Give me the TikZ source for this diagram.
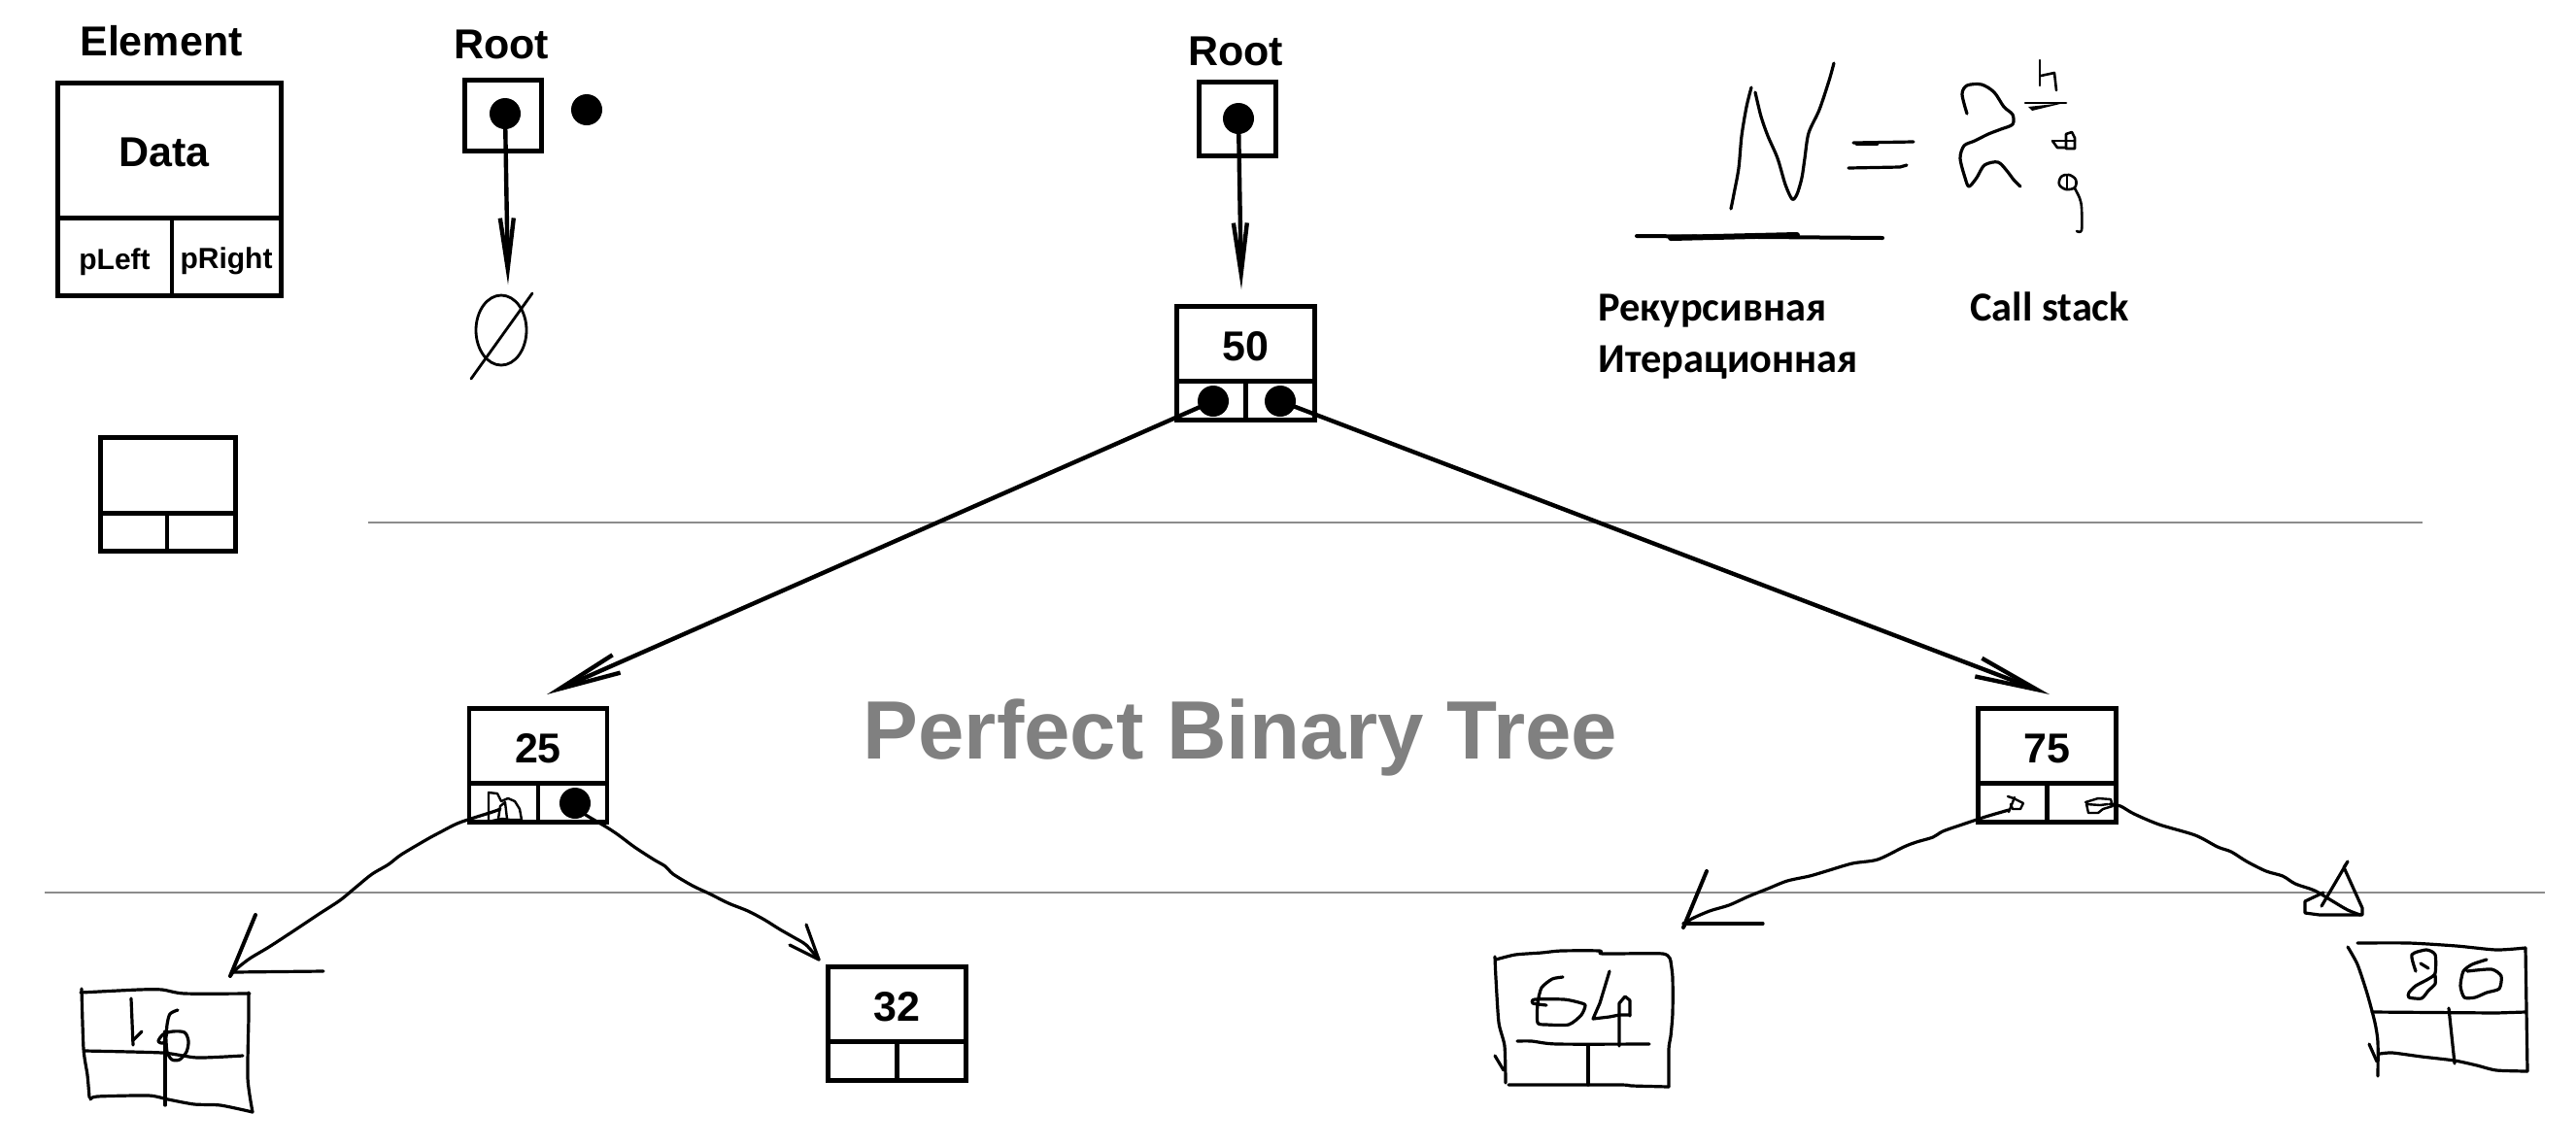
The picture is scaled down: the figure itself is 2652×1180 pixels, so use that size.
\documentclass[tikz,border=0pt]{standalone}
\usepackage{fontspec}
\setmainfont{Liberation Sans}
\newfontfamily\carlito{Carlito}
\usetikzlibrary{arrows.meta}
\definecolor{guidegray}{RGB}{140,140,140}
\definecolor{pbtgray}{RGB}{128,128,128}
\newcommand\treenode[4]{%
  \node[tbox] (#1) at (#2,#3) {};
  \draw[divider] ([yshift=-38.5pt]#1.north west) -- ([yshift=-38.5pt]#1.north east);
  \draw[divider] ([yshift=-38.5pt]#1.north) -- (#1.south);
  \node[numtext] (#1-data) at ([yshift=-28pt]#1.north) {#4};
  \coordinate (#1-l) at ([xshift=-17pt,yshift=10pt]#1.south);
  \coordinate (#1-r) at ([xshift=17pt,yshift=10pt]#1.south);
}
\begin{document}
\begin{tikzpicture}[x=0.5pt,y=-0.5pt,
  tbox/.style={draw, line width=2.4pt, inner sep=0pt, outer sep=0pt, minimum width=71pt, minimum height=58.5pt},
  divider/.style={line width=2.4pt},
  bbox/.style={draw, line width=2.4pt, inner sep=0pt, outer sep=0pt},
  numtext/.style={font=\bfseries\fontsize{21.5pt}{25pt}\selectfont, inner sep=0pt, anchor=base},
  lbl/.style={font=\bfseries\fontsize{21.5pt}{25pt}\selectfont, inner sep=0pt, anchor=base},
  smalllbl/.style={font=\bfseries\fontsize{15pt}{18pt}\selectfont, inner sep=0pt, anchor=base},
  rutext/.style={font=\carlito\bfseries\fontsize{21.2pt}{25pt}\selectfont, inner sep=0pt, anchor=base west},
  ptrdot/.style={circle, fill, inner sep=0pt, minimum size=16pt},
  ptr/.style={line width=2.2pt, -{Straight Barb[length=32pt,width=10pt]}},
  rootptr/.style={line width=2.2pt, -{Straight Barb[length=26pt,width=7pt]}},
  hand/.style={line width=1.6pt, line cap=round, line join=round},
  guide/.style={line width=0.75pt, draw=guidegray}]
\useasboundingbox (0,0) rectangle (2652,1180);
\fill[white] (0,0) rectangle (2652,1180);

% guide lines
\coordinate (g1a) at (379,538); \coordinate (g1b) at (2494,538);
\coordinate (g2a) at (46,919);  \coordinate (g2b) at (2620,919);
\draw[guide] (g1a) -- (g1b);
\draw[guide] (g2a) -- (g2b);

% Element legend
\node[lbl] (elemlbl) at (166,57) {Element};
\node[bbox, minimum width=115pt, minimum height=109.5pt] (elem) at (174.5,195) {};
\draw[divider] ([yshift=-69.5pt]elem.north west) -- ([yshift=-69.5pt]elem.north east);
\draw[divider] ([xshift=1.25pt,yshift=-69.5pt]elem.north) -- ([xshift=1.25pt]elem.south);
\node[lbl] (data) at (169,171) {Data};
\node[smalllbl] (pleft) at (118,277) {pLeft};
\node[smalllbl] (pright) at (233,276) {pRight};

% blank element
\node[bbox, minimum width=69.5pt, minimum height=58.5pt] (blank) at (173,509) {};
\draw[divider] ([yshift=-39pt]blank.north west) -- ([yshift=-39pt]blank.north east);
\draw[divider] ([xshift=-0.5pt,yshift=-39pt]blank.north) -- ([xshift=-0.5pt]blank.south);

% Root 1 (empty tree)
\node[lbl] (root1lbl) at (516,60) {Root};
\node[bbox, minimum width=39.5pt, minimum height=36.5pt] (root1) at (518,119) {};
\node[ptrdot] (r1dot) at (520,117) {};
\node[ptrdot] (freedot) at (604,113) {};
\coordinate (nulltip) at (523,293);
\draw[rootptr] (r1dot.center) -- (nulltip);
\draw[hand, line width=1.4pt] (516,340) ellipse [x radius=13pt, y radius=18pt];
\draw[hand, line width=1.4pt] (485,390) -- (548,302);

% Root 2
\node[lbl] (root2lbl) at (1272,67) {Root};
\node[bbox, minimum width=39.5pt, minimum height=38pt] (root2) at (1274,122.5) {};
\node[ptrdot] (r2dot) at (1275,122) {};
\coordinate (n50tip) at (1278,298);
\draw[rootptr] (r2dot.center) -- (n50tip);

% tree nodes
\treenode{n50}{1282.5}{374}{50}
\treenode{n25}{554}{788}{25}
\treenode{n75}{2107.5}{788}{75}
\treenode{n32}{923.5}{1054}{32}

\node[ptrdot] (d50l) at (1249,413) {};
\node[ptrdot] (d50r) at (1318,413) {};
\node[ptrdot] (d25r) at (592,827) {};

\coordinate (n25tip) at (563,715);
\coordinate (n75tip) at (2110,715);
\draw[ptr] (d50l.center) -- (n25tip);
\draw[ptr] (d50r.center) -- (n75tip);

% title
\node[font=\bfseries\fontsize{42.6pt}{50pt}\selectfont, text=pbtgray, inner sep=0pt, anchor=base] (pbt) at (1277,781) {Perfect Binary Tree};

% texts
\node[rutext] (rek) at (1645,330) {Рекурсивная};
\node[rutext] (iter) at (1645,383) {Итерационная};
\node[rutext] (callstack) at (2028,330) {Call stack};

% handwritten formula
\draw[hand] plot[smooth, tension=0.5] coordinates {(1782,215) (1785,200) (1790,173) (1793,140) (1798,110) (1803,90)};
\draw[hand] plot[smooth, tension=0.5] coordinates {(1807,95) (1813,120) (1820,140) (1830,163) (1838,190) (1845,205) (1850,200) (1855,183) (1858,163) (1862,137) (1873,113) (1883,83) (1888,65)};
\draw[hand] (1908,147) -- (1970,146);
\draw[hand, line width=2.4pt] (1912,148) -- (1932,148);
\draw[hand] (1903,173) -- (1956,172) -- (1963,170);
\draw[hand, line width=2pt] (1685,243) -- (1938,245);
\draw[hand, line width=3pt] (1720,245) -- (1850,242);
\draw[hand] plot[smooth, tension=0.5] coordinates {(2025,117) (2020,97) (2025,88) (2040,87) (2053,95) (2063,110) (2072,118) (2072,128) (2060,133) (2047,138) (2033,145) (2022,150) (2018,163) (2023,183) (2027,192) (2035,183) (2043,170) (2057,167) (2067,177) (2073,185) (2080,192)};
\draw[hand, line width=1.3pt] (2100,62) -- (2100,88);
\draw[hand, line width=1.3pt] (2101,78) -- (2115,75) -- (2117,93);
\draw[hand, line width=1.3pt] (2085,106) -- (2127,106);
\fill (2088,110) -- (2125,106) -- (2092,114) -- cycle;
\draw[hand, line width=1.3pt] (2127,153) -- (2127,138) -- (2133,136) -- (2136,142) -- (2136,153) -- cycle;
\draw[hand, line width=1.3pt] (2113,145) -- (2136,145);
\draw[hand, line width=1.3pt] (2113,145) -- (2118,152) -- (2127,152);
\draw[hand, line width=1.3pt] plot[smooth cycle, tension=0.6] coordinates {(2130,180) (2137,185) (2136,193) (2127,195) (2120,190) (2122,182)};
\draw[hand, line width=1.3pt] (2128,181) -- (2128,195);
\draw[hand, line width=1.3pt] plot[smooth, tension=0.5] coordinates {(2136,194) (2141,204) (2143,214) (2143,237) (2138,238)};

% scribbles in pointer cells
\draw[hand, line width=1.2pt] (503,845) -- (503,816) -- (512,817) -- (516,825) -- (523,822) -- (530,825) -- (535,833) -- (537,844) -- (525,844) -- (517,843) -- (507,845);
\draw[hand, line width=1.2pt] (513,843) -- (515,830) -- (520,826) -- (522,843);
\coordinate (p25l) at (515,833);
\draw[hand, line width=1.2pt] (2067,820) -- (2073,822) -- (2083,827) -- (2080,833) -- (2072,833) -- (2070,828);
\draw[hand, line width=1.2pt] (2074,821) -- (2068,836);
\coordinate (p75l) at (2068,834);
\draw[hand, line width=1.2pt] (2147,826) -- (2160,822) -- (2173,823) -- (2175,830) -- (2165,833) -- (2160,837) -- (2150,837) -- (2148,828) -- (2162,829) -- (2170,828);
\coordinate (p75r) at (2172,828);

% handwritten connectors
\coordinate (tip16) at (237,1005);
\draw[hand] plot[smooth, tension=0.5] coordinates {(p25l) (507,836) (473,847) (453,857) (440,864) (413,880) (400,890) (383,900) (367,913) (350,927) (327,942) (300,960) (277,975) (257,987) (243,998) (tip16)};
\draw[hand, line width=2pt] (tip16) -- (263,942);
\draw[hand] (240,1001) -- (333,1000);

\coordinate (tip32) at (843,988);
\draw[hand] plot[smooth, tension=0.5] coordinates {(d25r) (600,837) (625,852) (637,860) (653,872) (673,885) (685,892) (693,900) (713,912) (730,920) (750,930) (770,938) (787,947) (803,957) (817,965) (830,973) (tip32)};
\draw[hand] (tip32) -- (830,952);
\draw[hand] (tip32) -- (813,973);

\coordinate (tip64) at (1733,955);
\draw[hand] plot[smooth, tension=0.5] coordinates {(p75l) (2044,841) (2020,849) (2000,856) (1990,862) (1973,867) (1960,872) (1933,885) (1907,889) (1880,897) (1863,902) (1840,907) (1820,915) (1800,923) (1780,932) (1760,938) (1740,947) (tip64)};
\draw[hand, line width=2pt] (tip64) -- (1757,897);
\draw[hand] (1733,951) -- (1815,951);

\coordinate (tip86) at (2430,942);
\draw[hand] plot[smooth, tension=0.5] coordinates {(p75r) (2183,830) (2197,838) (2223,849) (2260,860) (2283,872) (2297,877) (2313,887) (2333,897) (2350,902) (2363,910) (2383,917) (2400,927) (2417,937) (tip86)};
\draw[hand] (2392,919) -- (2373,928) -- (2373,940) -- (2388,942) -- (2432,942) -- (2432,935) -- (2413,893) -- (2417,887) -- (2390,933);

% handwritten box 16
\draw[hand] plot[smooth, tension=0.4] coordinates {(83,1022) (143,1019) (167,1019) (190,1023) (257,1023)};
\draw[hand] plot[smooth, tension=0.4] coordinates {(256,1022) (256,1047) (255,1110) (260,1145)};
\draw[hand] plot[smooth, tension=0.4] coordinates {(260,1145) (227,1138) (200,1137) (173,1132) (153,1128) (100,1129) (93,1132)};
\draw[hand] plot[smooth, tension=0.4] coordinates {(84,1018) (86,1080) (90,1107) (92,1130)};
\draw[hand] plot[smooth, tension=0.4] coordinates {(87,1082) (167,1084) (203,1089) (250,1087)};
\draw[hand] (170,1062) -- (170,1138);
\draw[hand] (135,1028) -- (137,1076);
\draw[hand] (137,1071) -- (146,1062);
\draw[hand] plot[smooth, tension=0.5] coordinates {(183,1040) (175,1044) (172,1055) (171,1068) (168,1074) (163,1072) (168,1065) (178,1062) (190,1063) (194,1072) (192,1083) (185,1091) (177,1091) (172,1083) (171,1070)};

% handwritten box 64
\draw[hand] plot[smooth, tension=0.4] coordinates {(1540,988) (1560,983) (1587,981) (1607,979) (1647,979) (1650,982) (1712,982) (1720,990)};
\draw[hand] plot[smooth, tension=0.4] coordinates {(1720,990) (1722,1007) (1722,1043) (1720,1067) (1718,1080) (1718,1119)};
\draw[hand] plot[smooth, tension=0.4] coordinates {(1718,1119) (1680,1118) (1667,1117) (1553,1117)};
\draw[hand] plot[smooth, tension=0.4] coordinates {(1539,985) (1540,1007) (1543,1053) (1549,1077) (1550,1115)};
\draw[hand] (1539,1087) -- (1548,1102);
\draw[hand] plot[smooth, tension=0.4] coordinates {(1562,1072) (1577,1072) (1603,1075) (1698,1075)};
\draw[hand] (1635,1077) -- (1635,1117);
\draw[hand] plot[smooth, tension=0.4] coordinates {(1609,1006) (1598,1008) (1587,1017) (1583,1033) (1583,1053) (1592,1055) (1615,1055) (1628,1045) (1632,1035) (1625,1032) (1610,1029) (1580,1029) (1578,1033) (1592,1035)};
\draw[hand] (1657,1000) -- (1647,1033) -- (1640,1049) -- (1657,1047) -- (1667,1045) -- (1678,1045);
\draw[hand] (1667,1077) -- (1667,1033) -- (1673,1026) -- (1678,1030) -- (1678,1046);

% handwritten box 86
\draw[hand] plot[smooth, tension=0.4] coordinates {(2427,971) (2480,971) (2529,974) (2570,978) (2600,976)};
\draw[hand] plot[smooth, tension=0.4] coordinates {(2600,976) (2601,1040) (2602,1103)};
\draw[hand] plot[smooth, tension=0.4] coordinates {(2450,1085) (2463,1084) (2493,1088) (2527,1092) (2550,1097) (2570,1102) (2602,1103)};
\draw[hand] plot[smooth, tension=0.4] coordinates {(2417,975) (2427,993) (2437,1023) (2445,1053) (2448,1073) (2448,1108)};
\draw[hand] (2439,1075) -- (2447,1093);
\draw[hand] (2442,1042) -- (2570,1043) -- (2600,1042);
\draw[hand] (2521,1038) -- (2527,1095);
\draw[hand] plot[smooth, tension=0.4] coordinates {(2487,1000) (2483,983) (2498,978) (2507,983) (2507,1002) (2500,1008) (2487,1015) (2480,1022) (2480,1027) (2493,1028) (2500,1020) (2507,1013) (2507,1004)};
\draw[hand] (2492,992) -- (2500,997);
\draw[hand] plot[smooth, tension=0.4] coordinates {(2560,988) (2545,993) (2536,1000) (2533,1015) (2537,1027) (2548,1027) (2560,1022) (2573,1018) (2575,1005) (2565,998) (2540,1000)};
\end{tikzpicture}
\end{document}
